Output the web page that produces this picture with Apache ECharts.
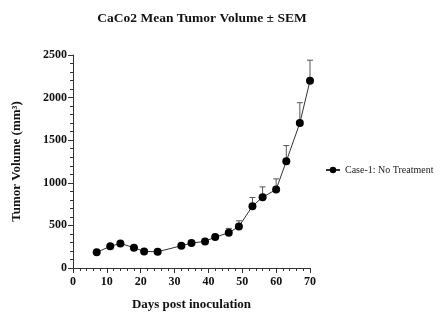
<!DOCTYPE html>
<html>
<head>
<meta charset="utf-8">
<script src="https://cdn.jsdelivr.net/npm/echarts@6/dist/echarts.min.js"></script>
<style>html,body{margin:0;padding:0;background:#fff}#c{width:447px;height:335px}</style>
</head>
<body>
<div id="c"></div>
<script>
const days = [7, 11, 14, 18, 21, 25, 32, 35, 39, 42, 46, 49, 53, 56, 60, 63, 67, 70];
const meanVolume = [184, 254, 289, 238, 195, 191, 261, 293, 312, 363, 413, 488, 726, 831, 921, 1253, 1702, 2198];
const semVolume = [15, 20, 20, 20, 15, 15, 20, 20, 25, 30, 52, 66, 102, 121, 125, 184, 238, 241];
const seriesName = 'Case-1: No Treatment';
const xTicks = [0, 10, 20, 30, 40, 50, 60, 70];
const yTicks = [0, 500, 1000, 1500, 2000, 2500];

const font = 'Liberation Serif';
const chart = echarts.init(document.getElementById('c'), null, {renderer: 'canvas'});

const lineData = days.map((d, i) => [d, meanVolume[i]]);
const errData = days.map((d, i) => [d, meanVolume[i], meanVolume[i] + semVolume[i]]);

chart.setOption({
  animation: false,
  backgroundColor: '#fff',
  title: {
    text: 'CaCo2 Mean Tumor Volume \u00b1 SEM',
    left: 197, top: 7, textAlign: 'center',
    textStyle: {fontFamily: font, fontWeight: 'bold', fontSize: 13.5, color: '#111'}
  },
  legend: {
    left: 320, top: 160,
    itemWidth: 14, itemHeight: 8, itemGap: 6,
    data: [seriesName],
    textStyle: {fontFamily: font, fontSize: 10, color: '#222'}
  },
  grid: {left: 73, top: 55, right: 137, bottom: 67, containLabel: false},
  xAxis: {
    type: 'value', min: xTicks[0], max: xTicks[xTicks.length - 1], interval: 10,
    name: 'Days post inoculation', nameLocation: 'middle', nameGap: 30,
    nameTextStyle: {fontFamily: font, fontWeight: 'bold', fontSize: 13, color: '#111'},
    axisLine: {show: true, lineStyle: {color: '#333', width: 1}},
    axisTick: {show: true, length: 5, lineStyle: {color: '#333'}},
    minorTick: {show: true, splitNumber: 5, length: 3, lineStyle: {color: '#333'}},
    axisLabel: {fontFamily: font, fontWeight: 'bold', fontSize: 12, color: '#111', margin: 8},
    splitLine: {show: false}
  },
  yAxis: {
    type: 'value', min: yTicks[0], max: yTicks[yTicks.length - 1], interval: 500,
    name: 'Tumor Volume (mm\u00b3)', nameLocation: 'middle', nameGap: 50, nameRotate: 90,
    nameTextStyle: {fontFamily: font, fontWeight: 'bold', fontSize: 13, color: '#111'},
    axisLine: {show: true, lineStyle: {color: '#333', width: 1}},
    axisTick: {show: true, length: 5, lineStyle: {color: '#333'}},
    minorTick: {show: true, splitNumber: 5, length: 3, lineStyle: {color: '#333'}},
    axisLabel: {fontFamily: font, fontWeight: 'bold', fontSize: 12, color: '#111', margin: 6,
      formatter: function (v) { return String(v); }},
    splitLine: {show: false}
  },
  series: [
    {
      type: 'custom',
      name: 'sem',
      data: errData,
      z: 1,
      silent: true,
      renderItem: function (params, api) {
        const x = api.value(0);
        const p0 = api.coord([x, api.value(1)]);
        const p1 = api.coord([x, api.value(2)]);
        const hw = 3;
        const style = {stroke: '#555', lineWidth: 1, fill: null};
        return {
          type: 'group',
          children: [
            {type: 'line', shape: {x1: p0[0], y1: p0[1], x2: p1[0], y2: p1[1]}, style: style},
            {type: 'line', shape: {x1: p1[0] - hw, y1: p1[1], x2: p1[0] + hw, y2: p1[1]}, style: style}
          ]
        };
      }
    },
    {
      type: 'line',
      name: seriesName,
      data: lineData,
      z: 3,
      symbol: 'circle',
      symbolSize: 8,
      lineStyle: {color: '#333', width: 1},
      itemStyle: {color: '#000'}
    }
  ]
});
</script>
</body>
</html>
